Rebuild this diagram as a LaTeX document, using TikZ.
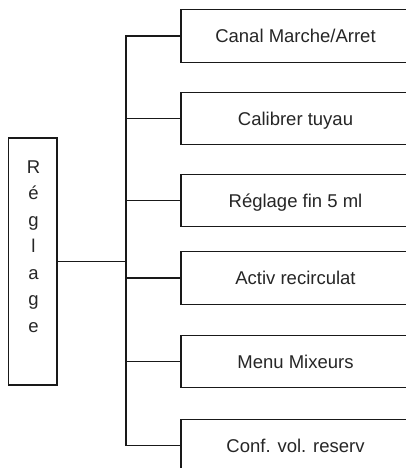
\documentclass[tikz,border=0pt]{standalone}
\usepackage{fontspec}
\setmainfont{Liberation Sans}
\begin{document}
\begin{tikzpicture}[x=1pt,y=-1pt,
  ln/.style={line width=1.4pt,draw=black!90},
  item/.style={ln,rectangle,minimum width=229pt,minimum height=52.5pt,inner sep=0pt,
    text height=13.2pt,text depth=0pt,font=\fontsize{18.5}{18.5}\selectfont,text=black!85},
  letter/.style={inner sep=0pt,anchor=base,font=\fontsize{18.5}{18.5}\selectfont,text=black!85}]
\useasboundingbox (0,0) rectangle (406,468);
\clip (0,0) rectangle (406,468);
\fill[white] (0,0) rectangle (406,468);
% left box
\node[ln,rectangle,minimum width=48.5pt,minimum height=247pt,inner sep=0pt] (r) at (32.75,261.5) {};
\foreach \l [count=\i] in {R,é,g,l,a,g,e}{
  \node[letter] (l\i) at (33.5,{173+26.5*(\i-1)}) {\l};
}
% item boxes
\node[item] (b1) at (295.5,36) {Canal Marche/Arret};
\node[item] (b2) at (295.5,118.5) {Calibrer tuyau};
\node[item] (b3) at (295.5,200.5) {Réglage fin 5 ml};
\node[item] (b4) at (295.5,278) {Activ recirculat};
\node[item] (b5) at (295.5,361.5) {Menu Mixeurs};
\node[item] (b6) at (295.5,445.5) {Conf. vol. reserv};
% trunk coordinates
\foreach \i/\y in {1/36,2/118.5,3/200.5,4/278,5/361.5,6/445.5}{
  \coordinate (t\i) at (126,\y);
}
\draw[ln,line cap=rect] (t1) -- (t6);
\foreach \i in {1,...,6}{
  \draw[ln] (t\i) -- (b\i.west);
}
\draw[ln] (r.east) -- (r.east -| t1);
\end{tikzpicture}
\end{document}
